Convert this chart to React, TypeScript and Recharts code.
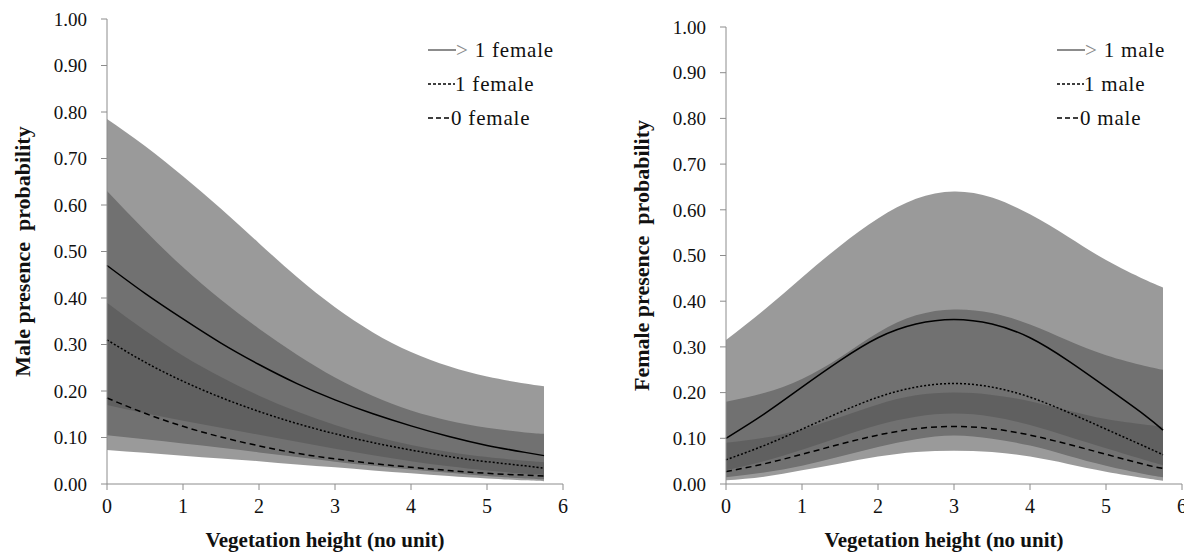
import {
  ComposedChart,
  Area,
  Line,
  XAxis,
  YAxis,
  Legend,
} from "recharts";

const FONT = '"Liberation Serif", "Times New Roman", serif';

// vegetation height sample points
const xs = [0, 0.5, 1, 1.5, 2, 2.5, 3, 3.5, 4, 4.5, 5, 5.5, 5.75];

// left panel: male presence probability
const maleGt1 = [0.47, 0.41, 0.355, 0.303, 0.257, 0.216, 0.181, 0.151, 0.125, 0.102, 0.083, 0.068, 0.061];
const maleGt1Lo = [0.17, 0.152, 0.136, 0.121, 0.106, 0.091, 0.076, 0.062, 0.049, 0.038, 0.029, 0.022, 0.02];
const maleGt1Hi = [0.785, 0.727, 0.662, 0.592, 0.518, 0.445, 0.38, 0.326, 0.284, 0.253, 0.231, 0.216, 0.21];
const male1 = [0.31, 0.262, 0.221, 0.186, 0.156, 0.13, 0.108, 0.089, 0.073, 0.059, 0.048, 0.039, 0.034];
const male1Lo = [0.105, 0.096, 0.087, 0.078, 0.068, 0.058, 0.048, 0.039, 0.031, 0.024, 0.017, 0.012, 0.01];
const male1Hi = [0.63, 0.545, 0.466, 0.396, 0.334, 0.278, 0.229, 0.189, 0.158, 0.136, 0.121, 0.111, 0.108];
const male0 = [0.185, 0.152, 0.124, 0.101, 0.082, 0.066, 0.054, 0.044, 0.036, 0.029, 0.023, 0.019, 0.017];
const male0Lo = [0.073, 0.067, 0.061, 0.055, 0.049, 0.042, 0.036, 0.029, 0.023, 0.017, 0.012, 0.008, 0.006];
const male0Hi = [0.39, 0.33, 0.276, 0.23, 0.19, 0.156, 0.127, 0.103, 0.084, 0.069, 0.058, 0.05, 0.047];

// right panel: female presence probability
const femGt1 = [0.1, 0.153, 0.212, 0.27, 0.32, 0.35, 0.36, 0.35, 0.32, 0.27, 0.212, 0.152, 0.118];
const femGt1Lo = [0.03, 0.05, 0.075, 0.103, 0.129, 0.147, 0.154, 0.147, 0.129, 0.104, 0.078, 0.053, 0.041];
const femGt1Hi = [0.315, 0.381, 0.452, 0.521, 0.581, 0.624, 0.64, 0.627, 0.59, 0.541, 0.49, 0.448, 0.43];
const fem1 = [0.053, 0.084, 0.12, 0.157, 0.19, 0.212, 0.22, 0.212, 0.19, 0.157, 0.12, 0.083, 0.064];
const fem1Lo = [0.015, 0.025, 0.04, 0.06, 0.081, 0.098, 0.106, 0.099, 0.084, 0.062, 0.04, 0.022, 0.015];
const fem1Hi = [0.18, 0.199, 0.23, 0.277, 0.331, 0.369, 0.382, 0.374, 0.349, 0.314, 0.282, 0.259, 0.25];
const fem0 = [0.027, 0.044, 0.065, 0.087, 0.107, 0.121, 0.126, 0.121, 0.107, 0.087, 0.065, 0.043, 0.034];
const fem0Lo = [0.008, 0.016, 0.03, 0.045, 0.06, 0.07, 0.073, 0.07, 0.06, 0.044, 0.027, 0.013, 0.007];
const fem0Hi = [0.09, 0.101, 0.12, 0.146, 0.174, 0.194, 0.2, 0.195, 0.181, 0.161, 0.142, 0.13, 0.125];

const xTicks = [0, 1, 2, 3, 4, 5, 6];
const yTicks = [0, 0.1, 0.2, 0.3, 0.4, 0.5, 0.6, 0.7, 0.8, 0.9, 1];

const maleLegend = ["1 female", "1 female", "0 female"];
const femaleLegend = ["1 male", "1 male", "0 male"];

function buildRows(
  hi: number[], hiLo: number[], hiHi: number[],
  mid: number[], midLo: number[], midHi: number[],
  low: number[], lowLo: number[], lowHi: number[]
) {
  return xs.map((x, i) => ({
    x,
    a: hi[i],
    aBand: [hiLo[i], hiHi[i]],
    b: mid[i],
    bBand: [midLo[i], midHi[i]],
    c: low[i],
    cBand: [lowLo[i], lowHi[i]],
  }));
}

const maleData = buildRows(maleGt1, maleGt1Lo, maleGt1Hi, male1, male1Lo, male1Hi, male0, male0Lo, male0Hi);
const femaleData = buildRows(femGt1, femGt1Lo, femGt1Hi, fem1, fem1Lo, fem1Hi, fem0, fem0Lo, fem0Hi);

// overlapping translucent bands give the three grey levels
const BAND = "#555555";
const BAND_OPACITY = 0.594;
const AXIS = "#8c8c8c";

function LegendBox({ labels }: { labels: string[] }) {
  const row = { height: 34, display: "flex", alignItems: "center", whiteSpace: "nowrap" as const };
  const sym = { flexShrink: 0, display: "block" };
  return (
    <div style={{ fontFamily: FONT, fontSize: 21, color: "#111", letterSpacing: 0.8 }}>
      <div style={row}>
        <svg width={28} height={10} style={sym}><line x1={0} y1={5} x2={28} y2={5} stroke="#666" strokeWidth={1.5} /></svg>
        <span style={{ color: "#888" }}>&gt;</span>
        <span>&nbsp;{labels[0]}</span>
      </div>
      <div style={row}>
        <svg width={27} height={10} style={sym}><line x1={0} y1={5} x2={27} y2={5} stroke="#000" strokeWidth={1.5} strokeDasharray="3 2" /></svg>
        <span>{labels[1]}</span>
      </div>
      <div style={row}>
        <svg width={23} height={10} style={sym}><line x1={0} y1={5} x2={23} y2={5} stroke="#000" strokeWidth={1.5} strokeDasharray="5 3" /></svg>
        <span>{labels[2]}</span>
      </div>
    </div>
  );
}

function Panel({
  data, yTitle, legend, top, legendLeft,
}: {
  data: ReturnType<typeof buildRows>;
  yTitle: string;
  legend: string[];
  top: number;
  legendLeft: number;
}) {
  return (
    <ComposedChart
      width={573}
      height={554}
      data={data}
      margin={{ top, right: 10, left: 0, bottom: 0 }}
    >
      <XAxis
        type="number"
        dataKey="x"
        domain={[0, 6]}
        ticks={xTicks}
        height={70}
        stroke={AXIS}
        tickSize={6}
        tickMargin={9}
        tick={{ fill: "#111", fontSize: 20, fontFamily: FONT }}
        label={(props: any) => {
          const vb = props.viewBox;
          return (
            <text
              x={vb.x + vb.width / 2 - 10}
              y={vb.y + 63}
              textAnchor="middle"
              fontFamily={FONT}
              fontWeight="bold"
              fontSize={21}
              fill="#111"
            >
              Vegetation height (no unit)
            </text>
          );
        }}
      />
      <YAxis
        type="number"
        domain={[0, 1]}
        ticks={yTicks}
        width={107}
        stroke={AXIS}
        tickSize={6}
        tickMargin={14}
        tickFormatter={(v) => v.toFixed(2)}
        tick={{ fill: "#111", fontSize: 19, fontFamily: FONT }}
        label={(props: any) => {
          const vb = props.viewBox;
          const cx = vb.x + 22;
          const cy = vb.y + vb.height / 2;
          return (
            <text
              x={cx}
              y={cy}
              transform={`rotate(-90 ${cx} ${cy})`}
              textAnchor="middle"
              dominantBaseline="central"
              fontFamily={FONT}
              fontWeight="bold"
              fontSize={22}
              fill="#111"
              style={{ whiteSpace: "pre" }}
            >
              {yTitle}
            </text>
          );
        }}
      />
      <Legend
        layout="horizontal"
        verticalAlign="middle"
        align="center"
        wrapperStyle={{ left: legendLeft, top: 33, width: "auto", height: "auto" }}
        content={() => <LegendBox labels={legend} />}
      />
      <Area type="natural" dataKey="aBand" fill={BAND} fillOpacity={BAND_OPACITY} stroke="none" isAnimationActive={false} />
      <Area type="natural" dataKey="bBand" fill={BAND} fillOpacity={BAND_OPACITY} stroke="none" isAnimationActive={false} />
      <Area type="natural" dataKey="cBand" fill={BAND} fillOpacity={BAND_OPACITY} stroke="none" isAnimationActive={false} />
      <Line type="natural" dataKey="a" stroke="#000" strokeWidth={1.5} dot={false} isAnimationActive={false} />
      <Line type="natural" dataKey="b" stroke="#000" strokeWidth={1.5} strokeDasharray="2 2" dot={false} isAnimationActive={false} />
      <Line type="natural" dataKey="c" stroke="#000" strokeWidth={1.5} strokeDasharray="6 4" dot={false} isAnimationActive={false} />
    </ComposedChart>
  );
}

export default function App() {
  return (
    <div style={{ position: "relative", width: 1192, height: 554, marginTop: -8, marginLeft: -8, background: "#fff", overflow: "hidden" }}>
      <div style={{ position: "absolute", left: 0, top: 0 }}>
        <Panel data={maleData} yTitle="Male presence  probability" legend={maleLegend} top={19} legendLeft={428} />
      </div>
      <div style={{ position: "absolute", left: 619, top: 0 }}>
        <Panel data={femaleData} yTitle="Female presence  probability" legend={femaleLegend} top={27} legendLeft={438} />
      </div>
    </div>
  );
}
